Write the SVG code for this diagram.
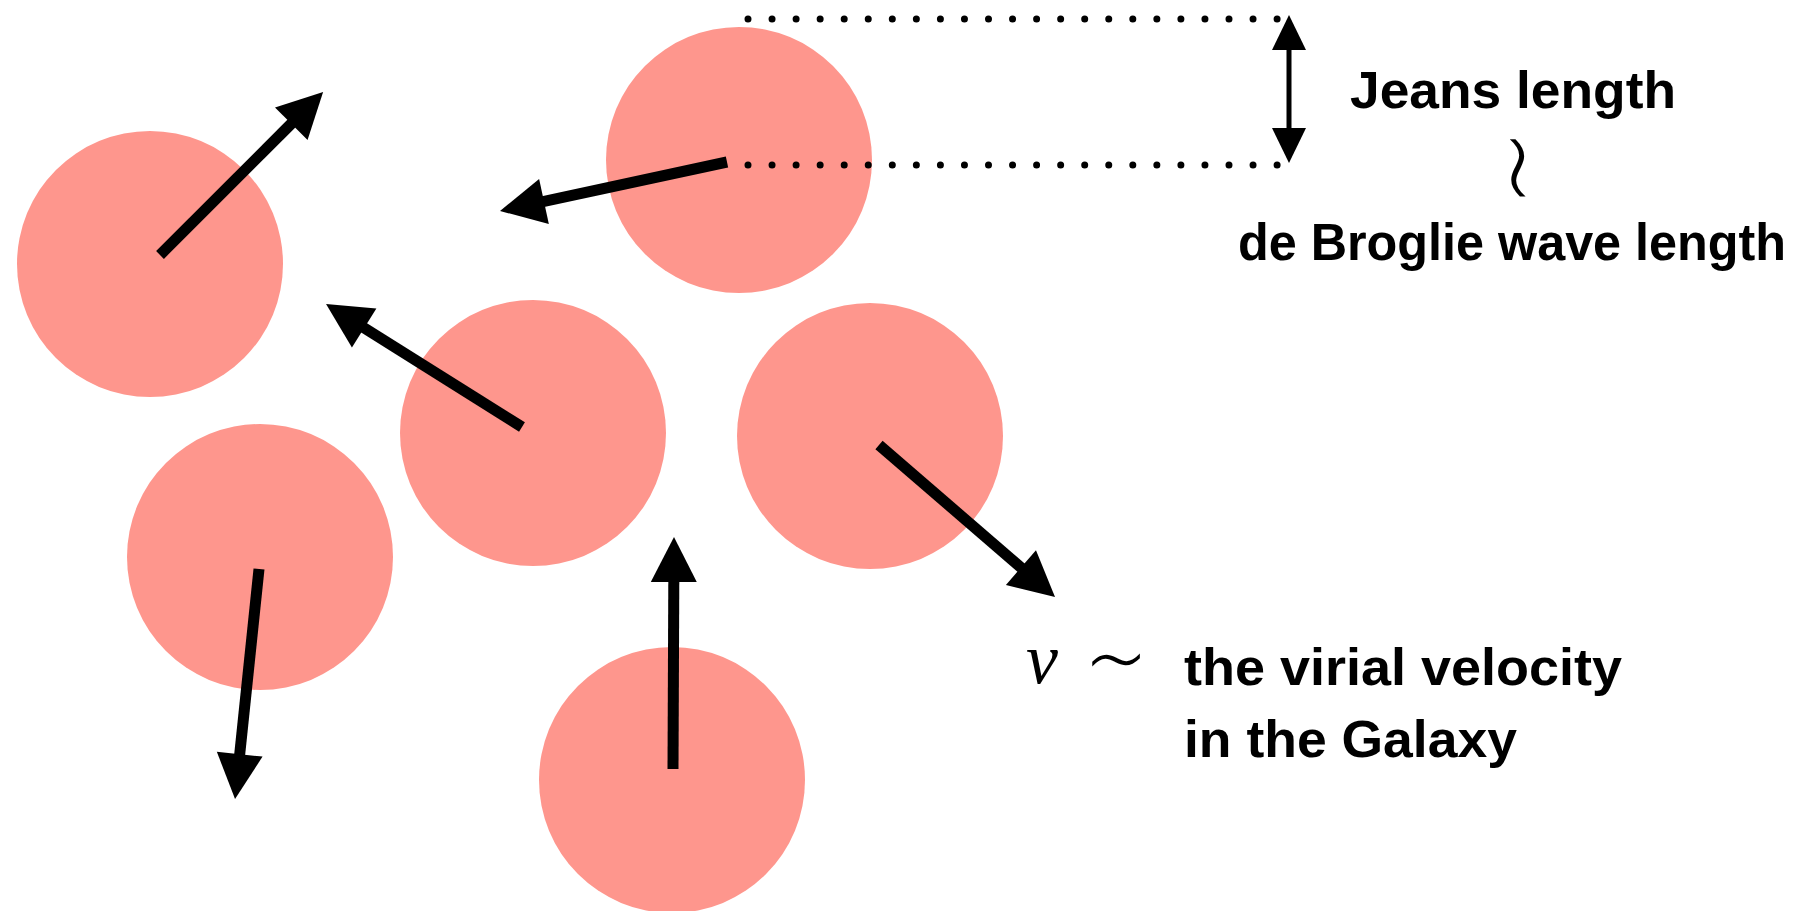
<svg xmlns="http://www.w3.org/2000/svg" width="1810" height="911" viewBox="0 0 1810 911">
  <style>
    .ball { fill: #fe968d; }
    .vel { stroke: #000; stroke-width: 11; fill: none; marker-end: url(#head); }
    .dots { stroke: #000; stroke-width: 7; stroke-linecap: round; stroke-dasharray: 0 24.05; fill: none; }
    .lbl { font-family: "Liberation Sans", Arial, sans-serif; font-weight: bold; font-size: 52px; fill: #000; }
    .tilde { font-family: "DejaVu Sans", sans-serif; font-weight: 200; fill: #000; }
    .var { font-family: "Liberation Serif", "Times New Roman", serif; font-style: italic; fill: #000; }
  </style>
  <defs>
    <marker id="head" markerUnits="userSpaceOnUse" viewBox="0 -23 44 46" refX="0" refY="0" markerWidth="44" markerHeight="46" orient="auto" overflow="visible">
      <path d="M-1,-23 L44,0 L-1,23 Z" fill="#000"/>
    </marker>
    <marker id="headS" markerUnits="userSpaceOnUse" viewBox="0 -17 34 34" refX="0" refY="0" markerWidth="34" markerHeight="34" orient="auto" overflow="visible">
      <path d="M-1,-17 L34,0 L-1,17 Z" fill="#000"/>
    </marker>
  </defs>

  <rect width="1810" height="911" fill="#fff"/>

  <g id="particle-left"><circle class="ball" cx="150" cy="264" r="133"/></g>
  <g id="particle-top"><circle class="ball" cx="739" cy="160" r="133"/></g>
  <g id="particle-middle"><circle class="ball" cx="533" cy="433" r="133"/></g>
  <g id="particle-right"><circle class="ball" cx="870" cy="436" r="133"/></g>
  <g id="particle-lower-left"><circle class="ball" cx="260" cy="557" r="133"/></g>
  <g id="particle-bottom"><circle class="ball" cx="672" cy="780" r="133"/></g>

  <g id="connectors">
    <line class="vel" x1="160" y1="255" x2="292" y2="123"/>
    <line class="vel" x1="727" y1="162" x2="543" y2="201.7"/>
    <line class="vel" x1="522" y1="427" x2="363.3" y2="327.4"/>
    <line class="vel" x1="879" y1="445" x2="1021.7" y2="568.2"/>
    <line class="vel" x1="673" y1="769" x2="673.8" y2="581"/>
    <line class="vel" x1="259" y1="569" x2="239.6" y2="755.2"/>
    <line class="dots" x1="748" y1="19" x2="1278" y2="19"/>
    <line class="dots" x1="748" y1="165" x2="1278" y2="165"/>
    <line x1="1289" y1="87" x2="1289" y2="49" stroke="#000" stroke-width="5" marker-end="url(#headS)"/>
    <line x1="1289" y1="87" x2="1289" y2="129" stroke="#000" stroke-width="5" marker-end="url(#headS)"/>
  </g>

  <g id="label-jeans">
    <text class="lbl" x="1350" y="108" textLength="326" lengthAdjust="spacingAndGlyphs">Jeans length</text>
    <text class="tilde" x="0" y="0" font-size="120" text-anchor="middle" transform="translate(1514,168) rotate(90) translate(0,38)">∼</text>
    <text class="lbl" x="1238" y="260" textLength="548" lengthAdjust="spacingAndGlyphs">de Broglie wave length</text>
  </g>

  <g id="label-velocity">
    <text class="var" x="1026" y="683" font-size="72">v</text>
    <text class="tilde" x="1116" y="695" font-size="100" text-anchor="middle">∼</text>
    <text class="lbl" x="1184" y="685" textLength="438" lengthAdjust="spacingAndGlyphs">the virial velocity</text>
    <text class="lbl" x="1184" y="757" textLength="333" lengthAdjust="spacingAndGlyphs">in the Galaxy</text>
  </g>
</svg>
